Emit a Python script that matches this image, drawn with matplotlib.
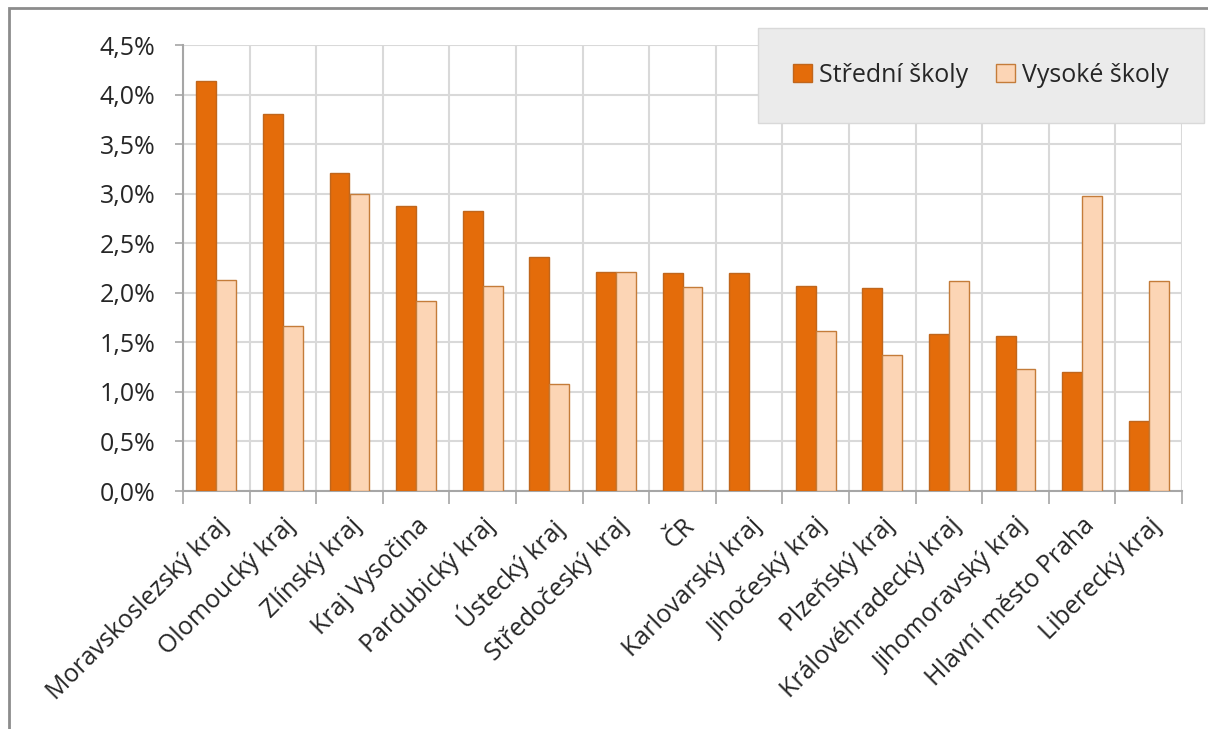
import matplotlib.pyplot as plt
import matplotlib.patches as mpatches
import numpy as np

plt.rcParams['font.family'] = ['Open Sans', 'DejaVu Sans']

# data (percent)
regions = ["Moravskoslezský kraj", "Olomoucký kraj", "Zlínský kraj", "Kraj Vysočina",
           "Pardubický kraj", "Ústecký kraj", "Středočeský kraj", "ČR", "Karlovarský kraj",
           "Jihočeský kraj", "Plzeňský kraj", "Královéhradecký kraj", "Jihomoravský kraj",
           "Hlavní město Praha", "Liberecký kraj"]
stredni = [4.14, 3.80, 3.21, 2.88, 2.83, 2.36, 2.21, 2.20, 2.20, 2.065, 2.05, 1.58, 1.565, 1.20, 0.705]
vysoke = [2.13, 1.66, 3.00, 1.92, 2.065, 1.075, 2.21, 2.06, 0.0, 1.61, 1.37, 2.12, 1.235, 2.975, 2.12]
yticks = [0, 0.5, 1.0, 1.5, 2.0, 2.5, 3.0, 3.5, 4.0, 4.5]

orange = '#E46C0A'
orange_edge = '#C0661C'
light = '#FCD5B5'
light_edge = '#C47C3A'
grid_c = '#D9D9D9'
axis_c = '#A6A6A6'
text_c = '#262626'
fs = 18

fig = plt.figure(figsize=(12.08, 7.29), dpi=100)
ax = fig.add_axes([183 / 1208, 1 - 491 / 729, (1182 - 183) / 1208, (491 - 45) / 729])

x = np.arange(len(regions))
w = 0.3
ax.bar(x - w / 2, stredni, w, color=orange, edgecolor=orange_edge, linewidth=1,
       label='Střední školy', zorder=3)
ax.bar(x + w / 2, vysoke, w, color=light, edgecolor=light_edge, linewidth=1,
       label='Vysoké školy', zorder=3)

ax.set_xlim(-0.5, len(regions) - 0.5)
ax.set_ylim(0, 4.5)
ax.set_yticks(yticks)
ax.set_yticklabels([f"{v:.1f}%".replace('.', ',') for v in yticks], fontsize=fs, color=text_c)

# category labels at centres, ticks/grid at boundaries
ax.set_xticks(x)
ax.set_xticklabels(regions, rotation=45, ha='right', rotation_mode='anchor',
                   fontsize=fs, color=text_c)
ax.tick_params(axis='x', which='major', length=0, pad=16)
ax.set_xticks(np.arange(len(regions) + 1) - 0.5, minor=True)
ax.tick_params(axis='x', which='minor', length=9, color=axis_c, width=1.2)
ax.tick_params(axis='y', length=6, color=axis_c, width=1.2, pad=14)

ax.grid(axis='y', color=grid_c, linewidth=1.5, zorder=0)
ax.grid(axis='x', which='minor', color=grid_c, linewidth=1.5, zorder=0)

for s in ['top', 'right']:
    ax.spines[s].set_visible(False)
for s in ['left', 'bottom']:
    ax.spines[s].set_color(axis_c)
    ax.spines[s].set_linewidth(1.5)

leg = fig.legend(loc='upper left', bbox_to_anchor=(758 / 1208, 1 - 28 / 729),
                 ncol=2, fontsize=fs, frameon=True, fancybox=False,
                 handlelength=0.75, handleheight=0.75, handletextpad=0.3,
                 columnspacing=1.1, borderpad=1.4, borderaxespad=0)
leg.get_frame().set_facecolor('#EBEBEB')
leg.get_frame().set_edgecolor('#D9D9D9')
leg.get_frame().set_alpha(1)
for t in leg.get_texts():
    t.set_color(text_c)

# outer chart frame
fig.patches.append(mpatches.Rectangle((9 / 1208, -0.01), 1.2, 1 - 8 / 729 + 0.01,
                                      transform=fig.transFigure, fill=False,
                                      edgecolor='#8C8C8C', linewidth=2))

fig.savefig('out.png', dpi=100)
